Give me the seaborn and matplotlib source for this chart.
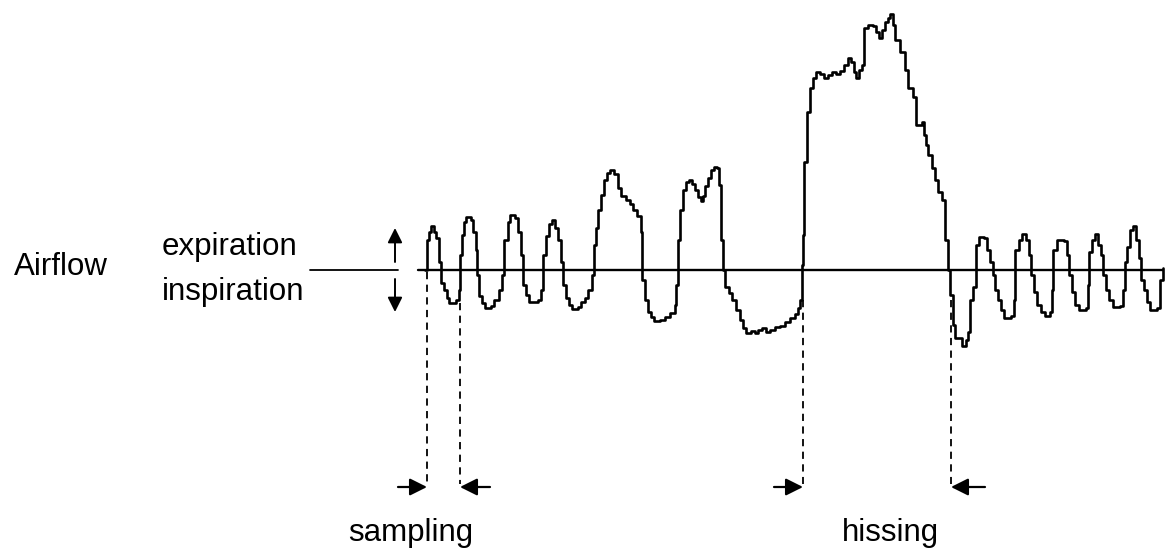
import matplotlib
matplotlib.use("Agg")
import matplotlib.pyplot as plt
import seaborn as sns
import pandas as pd

# airflow trace (pixel coords, y grows downward)
trace_x = [425, 427, 429, 431, 434, 436, 439, 441, 444, 447, 449, 456, 459, 460, 462, 464, 466, 471,
           473, 476, 477, 479, 482, 485, 491, 494, 499, 502, 504, 508, 510, 515, 518, 521, 523, 526,
           529, 538, 541, 543, 546, 549, 552, 555, 558, 561, 563, 566, 569, 572, 578, 581, 585, 588,
           592, 594, 596, 598, 601, 604, 607, 610, 614, 618, 621, 626, 630, 633, 637, 641, 642, 645,
           648, 651, 654, 660, 665, 670, 675, 676, 678, 680, 683, 686, 689, 692, 695, 698, 701, 703,
           705, 708, 711, 714, 717, 719, 721, 723, 725, 729, 732, 736, 740, 743, 746, 751, 755, 758,
           762, 766, 770, 775, 780, 785, 790, 795, 798, 800, 802, 803, 804, 807, 810, 813, 816, 820,
           824, 828, 832, 836, 840, 844, 848, 851, 854, 856, 859, 862, 864, 868, 873, 876, 879, 882,
           885, 888, 890, 893, 895, 900, 905, 908, 913, 916, 922, 924, 926, 928, 932, 935, 938, 942,
           945, 948, 950, 953, 955, 962, 966, 968, 970, 973, 976, 979, 984, 987, 990, 993, 995, 998,
           1001, 1004, 1011, 1014, 1015, 1019, 1022, 1026, 1029, 1031, 1034, 1037, 1041, 1045, 1050,
           1052, 1053, 1057, 1064, 1067, 1069, 1072, 1075, 1079, 1086, 1088, 1089, 1092, 1095, 1098,
           1101, 1103, 1106, 1109, 1113, 1120, 1123, 1125, 1127, 1130, 1133, 1136, 1139, 1141, 1144,
           1147, 1150, 1157, 1160, 1163]
trace_y = [270, 240, 232, 226, 232, 238, 262, 283, 290, 298, 303, 300, 290, 255, 235, 222, 217, 220,
           232, 250, 275, 296, 303, 308, 306, 300, 290, 275, 240, 222, 215, 218, 232, 255, 285, 295,
           302, 300, 290, 255, 236, 224, 220, 228, 240, 262, 285, 298, 305, 309, 307, 302, 298, 290,
           275, 245, 228, 210, 195, 180, 173, 170, 174, 188, 196, 200, 204, 210, 216, 232, 280, 300,
           312, 317, 321, 320, 317, 313, 305, 285, 240, 210, 190, 182, 180, 184, 190, 197, 201, 196,
           186, 178, 170, 167, 168, 185, 240, 270, 287, 293, 300, 310, 320, 328, 333, 331, 333, 330,
           328, 332, 330, 327, 326, 322, 318, 314, 308, 300, 265, 235, 162, 112, 88, 78, 72, 74,
           78, 75, 72, 74, 71, 65, 58, 62, 72, 78, 70, 65, 28, 25, 26, 32, 38, 30,
           22, 18, 14, 25, 40, 52, 70, 88, 97, 125, 122, 135, 145, 155, 168, 180, 192, 200,
           240, 270, 295, 325, 338, 346, 340, 332, 300, 287, 245, 237, 238, 250, 262, 275, 290, 300,
           310, 318, 316, 300, 250, 240, 234, 240, 255, 275, 292, 305, 312, 316, 312,
           290, 250, 240, 241, 255, 275, 292, 305, 310, 308, 285, 252, 240, 234, 245,
           255, 275, 290, 300, 307, 306, 290, 262, 247, 230, 226, 240, 258, 280, 290,
           302, 310, 308, 280, 268]

baseline_y = 270
baseline_x = [418, 1163]

# sampling / hissing markers
marker_x = [427, 460, 803, 951]
marker_top = [272, 303, 300, 300]
arrow_from = [398, 490, 774, 985]

labels = ["Airflow", "expiration", "inspiration", "sampling", "hissing"]

sns.set_theme(style="white")
plt.rcParams["font.family"] = ["Liberation Sans", "DejaVu Sans"]
plt.rcParams["text.color"] = "black"

fig = plt.figure(figsize=(11.68, 5.54), dpi=100)
ax = fig.add_axes([0, 0, 1, 1])
ax.set_xlim(0, 1168)
ax.set_ylim(554, 0)
ax.axis("off")

df = pd.DataFrame({"x": trace_x, "y": trace_y})
sns.lineplot(data=df, x="x", y="y", ax=ax, estimator=None, sort=False,
             drawstyle="steps-post", color="black", linewidth=1.9)

ax.plot(baseline_x, [baseline_y, baseline_y], color="black", linewidth=1.7, zorder=1)

# legend line and up/down arrows
ax.plot([310, 398], [baseline_y, baseline_y], color="black", linewidth=1.3)
ax.annotate("", xy=(395, 228), xytext=(395, 262),
            arrowprops=dict(arrowstyle="-|>", color="black", lw=1.4, mutation_scale=22,
                            shrinkA=0, shrinkB=0))
ax.annotate("", xy=(395, 312), xytext=(395, 279),
            arrowprops=dict(arrowstyle="-|>", color="black", lw=1.4, mutation_scale=22,
                            shrinkA=0, shrinkB=0))

for mx, top, src in zip(marker_x, marker_top, arrow_from):
    ax.plot([mx, mx], [top, 484], color="black", linewidth=1.3, linestyle=(0, (4, 3)))
    ax.annotate("", xy=(mx, 487), xytext=(src, 487),
                arrowprops=dict(arrowstyle="-|>", color="black", lw=1.6, mutation_scale=26,
                                shrinkA=0, shrinkB=0))

fs = 22.5
ax.text(14, 275, labels[0], fontsize=fs, ha="left", va="baseline")
ax.text(162, 255, labels[1], fontsize=fs, ha="left", va="baseline")
ax.text(162, 300, labels[2], fontsize=fs, ha="left", va="baseline")
ax.text(411, 541, labels[3], fontsize=fs, ha="center", va="baseline")
ax.text(890, 541, labels[4], fontsize=fs, ha="center", va="baseline")

fig.savefig("out.png", dpi=100, facecolor="white")
